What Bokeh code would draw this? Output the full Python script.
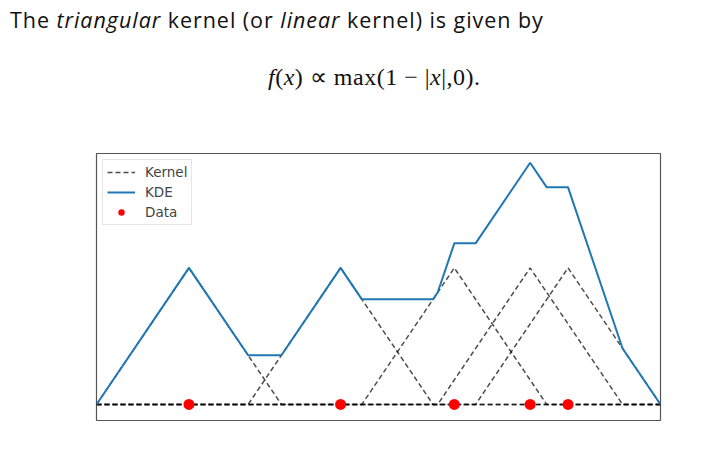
from bokeh.plotting import figure
from bokeh.models import Div, Range1d, Legend, LegendItem
from bokeh.layouts import column
from bokeh.embed import file_html
from bokeh.resources import INLINE

# Data points, kernel half-width = 1
data_x = [-2.05, -0.41, 0.82, 1.64, 2.05]
data_y = [0, 0, 0, 0, 0]

x_lo = min(data_x) - 1
x_hi = max(data_x) + 1

def tri(x, d):
    return max(1 - abs(x - d), 0.0)

# breakpoints of the piecewise-linear kernels
bp = sorted(set([x_lo, x_hi] + [v for d in data_x for v in (d - 1, d, d + 1) if x_lo <= v <= x_hi]))

p = figure(width=690, height=341, output_backend="svg", toolbar_location=None,
           x_axis_type=None, y_axis_type=None,
           x_range=Range1d(x_lo, x_hi), y_range=Range1d(-0.1176, 1.838),
           min_border_left=88, min_border_right=38, min_border_top=53, min_border_bottom=21)
p.grid.visible = False
p.outline_line_color = "#555555"
p.outline_line_width = 1.2
p.background_fill_color = "white"
p.border_fill_color = "white"

kernel_renderers = []
for d in data_x:
    kx = sorted(set([x_lo, x_hi] + [v for v in (d - 1, d, d + 1) if x_lo <= v <= x_hi]))
    ky = [tri(v, d) for v in kx]
    r = p.line(kx, ky, line_color="black", line_alpha=0.7, line_width=1.5, line_dash="5 3")
    kernel_renderers.append(r)

kde_y = [sum(tri(v, d) for d in data_x) for v in bp]
kde = p.line(bp, kde_y, line_color="#1f77b4", line_width=2)

dots = p.scatter(data_x, data_y, size=11, fill_color="red", line_color=None)

legend = Legend(items=[LegendItem(label="Kernel", renderers=[kernel_renderers[0]]),
                       LegendItem(label="KDE", renderers=[kde]),
                       LegendItem(label="Data", renderers=[dots])],
                location="top_left", margin=6, padding=4, spacing=4,
                glyph_width=28, glyph_height=16, label_height=16, label_standoff=10,
                label_text_font="DejaVu Sans", label_text_font_size="13.5px",
                border_line_color="#cccccc", border_line_width=1,
                background_fill_color="white", background_fill_alpha=0.8)
p.add_layout(legend)

heading = Div(text='The <i>triangular</i> kernel (or <i>linear</i> kernel) is given by',
              width=690, height=45, margin=0,
              styles={"font-family": "Open Sans", "font-size": "21.5px", "line-height": "24px",
                      "letter-spacing": "0.95px", "color": "#111111", "padding-left": "2px"})
formula = Div(text='<i>f</i>(<i>x</i>) &prop; max(1 &minus; |<i>x</i>|,0).',
              width=690, height=47, margin=0,
              styles={"font-family": "Liberation Serif", "font-size": "24px", "line-height": "24px",
                      "letter-spacing": "0.5px", "color": "#111111",
                      "padding-left": "260px", "padding-top": "12px"})

layout = column(heading, formula, p, spacing=0, margin=(8, 0, 0, 8))
open("out.html", "w").write(file_html(layout, INLINE))
